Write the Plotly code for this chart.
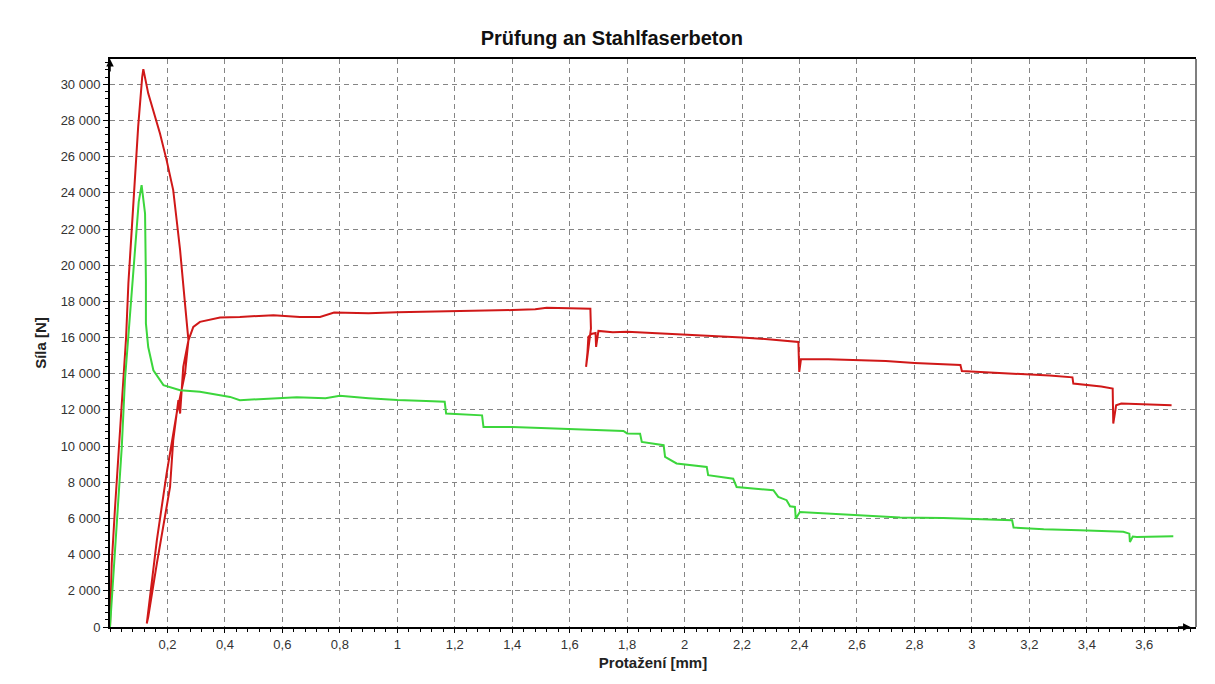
import plotly.graph_objects as go

# Prüfung an Stahlfaserbeton - Kraft / Verformung
red_x = [0.0, 0.006, 0.017, 0.041, 0.056, 0.064, 0.076, 0.089, 0.098, 0.112, 0.116,
         0.133, 0.174, 0.197, 0.220, 0.232, 0.244, 0.261, 0.273,
         0.261, 0.232, 0.197, 0.163, 0.128,
         0.133, 0.163, 0.209, 0.220, 0.238, 0.244, 0.255, 0.273, 0.290, 0.313, 0.383, 0.452,
         0.569, 0.661, 0.731, 0.78, 0.9, 1.0, 1.1, 1.2, 1.3, 1.4, 1.48, 1.52, 1.6, 1.672,
         1.674, 1.657, 1.662, 1.665, 1.675, 1.69, 1.692, 1.70,
         1.75, 1.8, 1.9, 2.0, 2.1, 2.2, 2.3, 2.396,
         2.399, 2.401, 2.405, 2.5, 2.6, 2.7, 2.8, 2.9, 2.96, 2.965,
         3.1, 3.2, 3.27, 3.35, 3.353, 3.45, 3.49, 3.492, 3.497, 3.502, 3.52, 3.6, 3.695]
red_y = [0, 3500, 6470, 12170, 16000, 19000, 21950, 25430, 27650, 30400, 30840,
         29500, 27280, 25810, 24150, 22500, 20830, 17880, 15850,
         14010, 11800, 8480, 4790, 190,
         550, 3500, 7740, 10320, 12540, 11800, 14380, 15850, 16590, 16870, 17110, 17140,
         17240, 17140, 17140, 17380, 17350, 17400, 17420, 17480, 17500, 17520, 17560, 17650, 17620, 17600,
         16500, 14380, 15200, 16040, 16200, 16250, 15480, 16370,
         16300, 16320, 16250, 16150, 16100, 16000, 15900, 15760,
         14100, 14500, 14800, 14800, 14750, 14700, 14600, 14550, 14480, 14150,
         14050, 13950, 13900, 13800, 13460, 13300, 13180, 11250, 11900, 12260, 12350, 12300, 12260]

green_x = [0.0, 0.011, 0.029, 0.035, 0.041, 0.052, 0.070, 0.087, 0.100, 0.110,
           0.122, 0.125, 0.125, 0.133, 0.151, 0.186, 0.244, 0.313, 0.418, 0.452,
           0.55, 0.65, 0.75, 0.8, 0.9, 1.0, 1.1, 1.165, 1.17, 1.25, 1.295, 1.30,
           1.4, 1.5, 1.6, 1.706, 1.787, 1.80, 1.845, 1.851, 1.927, 1.932, 1.972,
           2.077, 2.082, 2.169, 2.181, 2.309, 2.326, 2.355, 2.367, 2.384, 2.387, 2.401,
           2.517, 2.634, 2.75, 2.9, 3.0, 3.1, 3.14, 3.145, 3.25, 3.376, 3.527, 3.548,
           3.55, 3.56, 3.574, 3.701]
green_y = [0, 2580, 7190, 8110, 9950, 13640, 17330, 21010, 23500, 24430,
           22860, 19170, 16780, 15480, 14190, 13370, 13090, 13000, 12720, 12540,
           12600, 12700, 12650, 12780, 12650, 12550, 12500, 12450, 11800, 11750, 11700, 11050,
           11050, 11000, 10950, 10910, 10840, 10700, 10690, 10230, 10050, 9400, 9040,
           8850, 8390, 8200, 7740, 7560, 7190, 7010, 6670, 6640, 5990, 6360,
           6270, 6180, 6050, 6020, 5980, 5950, 5900, 5500, 5400, 5350, 5260, 5160,
           4700, 5000, 4980, 5020]

x_ticks = [0.2, 0.4, 0.6, 0.8, 1, 1.2, 1.4, 1.6, 1.8, 2, 2.2, 2.4, 2.6, 2.8, 3, 3.2, 3.4, 3.6]

fnt = "Liberation Sans, Arial, sans-serif"

fig = go.Figure()
fig.add_trace(go.Scatter(x=red_x, y=red_y, mode="lines",
                         line=dict(color="#d01818", width=2), name="1"))
fig.add_trace(go.Scatter(x=green_x, y=green_y, mode="lines",
                         line=dict(color="#3cd63c", width=2), name="2"))

# the page adds an 8px body margin, so margins are shifted accordingly
fig.update_layout(
    width=1215, height=684,
    margin=dict(l=102, r=27, t=51, b=65),
    paper_bgcolor="white", plot_bgcolor="white",
    showlegend=False,
    separators=", ",
    font=dict(family=fnt, size=13, color="#333333"),
    title=dict(text="<b>Prüfung an Stahlfaserbeton</b>", x=0.497, xref="container",
               y=1 - 30 / 684, yref="container", yanchor="middle", xanchor="center",
               font=dict(family=fnt, size=20, color="#111111")),
)
fig.update_xaxes(
    range=[0, 3.78], tickmode="array", tickvals=x_ticks, automargin=False,
    showgrid=True, gridcolor="#858585", griddash="5px,4px", gridwidth=1,
    showline=True, linecolor="black", linewidth=2, mirror=True,
    ticks="outside", ticklen=4, tickcolor="black",
    minor=dict(ticks="outside", ticklen=3, dtick=0.04, tick0=0, tickcolor="black", showgrid=False),
    zeroline=False,
    title=dict(text="<b>Protažení [mm]</b>", standoff=7, font=dict(size=15, color="#222222")),
)
fig.update_yaxes(
    range=[0, 31400], dtick=2000, tick0=0, tickformat=",d", automargin=False,
    showgrid=True, gridcolor="#858585", griddash="5px,4px", gridwidth=1,
    showline=True, linecolor="black", linewidth=2,
    ticks="outside", ticklen=5, tickcolor="black",
    minor=dict(ticks="outside", ticklen=3, dtick=400, tick0=0, tickcolor="black", showgrid=False),
    zeroline=False,
    title=dict(text="<b>Síla [N]</b>", standoff=10, font=dict(size=15, color="#222222")),
)
# right frame edge (grey)
fig.add_shape(type="line", xref="paper", yref="paper", x0=1, x1=1, y0=0, y1=1,
              line=dict(color="#555555", width=1.5))
# small axis arrowheads
fig.add_annotation(xref="paper", yref="paper", x=0, y=1, ax=0, ay=14,
                   showarrow=True, arrowhead=2, arrowsize=1, arrowwidth=1.5, arrowcolor="black", text="")
fig.add_annotation(xref="paper", yref="paper", x=0.995, y=0, ax=-14, ay=0,
                   showarrow=True, arrowhead=2, arrowsize=1, arrowwidth=1.5, arrowcolor="black", text="")

fig.write_html("out.html")
